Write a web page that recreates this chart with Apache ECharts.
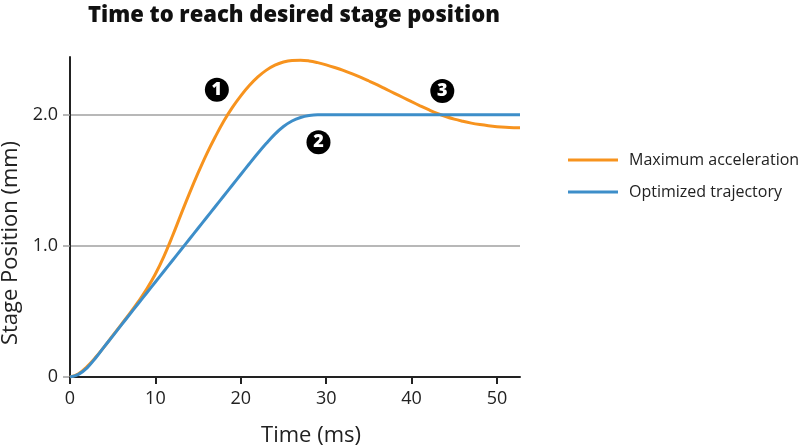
<!DOCTYPE html>
<html lang="en">
<head>
<meta charset="UTF-8">
<title>Time to reach desired stage position</title>
<style type="text/css">
  html, body { margin: 0; padding: 0; background: #fff; }
  #chart { width: 800px; height: 448px; }
</style>
</head>
<body>
<div id="chart"></div>
<script src="https://cdn.jsdelivr.net/npm/echarts@6/dist/echarts.min.js"></script>
<script type="text/javascript">
// time (ms)
var times = [0, 1, 2, 3, 4, 5, 6, 7, 8, 9, 10, 11, 12, 13, 14, 15, 16, 17, 18, 19,
             20, 21, 22, 23, 24, 25, 26, 27, 28, 29, 30, 31, 32, 33, 34, 35, 36, 37,
             38, 39, 40, 41, 42, 43, 44, 45, 46, 47, 48, 49, 50, 51, 52, 52.7];
// stage position (mm)
var maxAccel = [0, 0.025, 0.08, 0.15, 0.23, 0.315, 0.40, 0.485, 0.575, 0.672, 0.785, 0.92,
                1.075, 1.24, 1.402, 1.556, 1.70, 1.83, 1.95, 2.054, 2.144, 2.222, 2.288, 2.34,
                2.378, 2.402, 2.414, 2.416, 2.41, 2.397, 2.38, 2.36, 2.338, 2.313, 2.286, 2.257,
                2.227, 2.195, 2.163, 2.131, 2.099, 2.068, 2.038, 2.01, 1.986, 1.966, 1.95, 1.936,
                1.925, 1.916, 1.909, 1.904, 1.901, 1.90];
var optimized = [0, 0.02, 0.07, 0.145, 0.23, 0.312, 0.395, 0.478, 0.56, 0.642, 0.724, 0.806,
                 0.888, 0.97, 1.052, 1.134, 1.216, 1.298, 1.38, 1.462, 1.544, 1.626, 1.706, 1.782,
                 1.852, 1.91, 1.952, 1.979, 1.994, 2.0, 2.0, 2.0, 2.0, 2.0, 2.0, 2.0,
                 2.0, 2.0, 2.0, 2.0, 2.0, 2.0, 2.0, 2.0, 2.0, 2.0, 2.0, 2.0,
                 2.0, 2.0, 2.0, 2.0, 2.0, 2.0];
var seriesNames = ['Maximum acceleration', 'Optimized trajectory'];
var xTicks = [0, 10, 20, 30, 40, 50];
var yTicks = [0, 1, 2];
// numbered callouts [time, position, label]
var callouts = [[17.2, 2.19, '1'], [29.1, 1.79, '2'], [43.6, 2.18, '3']];

function pairs(vals) {
    var out = [];
    for (var i = 0; i < times.length; i++) {
        out.push([times[i], vals[i]]);
    }
    return out;
}

var myChart = echarts.init(document.getElementById('chart'));
var font = '"Open Sans", "Noto Sans", sans-serif';
var option = {
    animation: false,
    textStyle: { fontFamily: font },
    title: {
        text: 'Time to reach desired stage position',
        left: 289,
        textAlign: 'center',
        top: 0,
        textStyle: { fontFamily: font, fontSize: 22, fontWeight: 800, color: '#111' }
    },
    legend: {
        data: seriesNames,
        orient: 'vertical',
        left: 563,
        top: 146,
        icon: 'rect',
        itemWidth: 50,
        itemHeight: 3,
        itemGap: 14,
        textStyle: { fontFamily: font, fontSize: 16, color: '#222', lineHeight: 18, padding: [0, 0, 0, 6] }
    },
    grid: { left: 70, right: 280, top: 57, bottom: 71, outerBoundsMode: 'none' },
    xAxis: {
        type: 'value',
        min: 0,
        max: 52.7,
        interval: 10,
        name: 'Time (ms)',
        nameLocation: 'middle',
        nameGap: 48,
        nameTextStyle: { fontFamily: font, fontSize: 22, color: '#222', padding: [0, 0, 0, 32] },
        axisLine: { lineStyle: { color: '#222', width: 2 } },
        axisTick: { customValues: xTicks, length: 7, lineStyle: { color: '#222', width: 2 } },
        axisLabel: { customValues: xTicks, fontSize: 18, color: '#222', margin: 13 },
        splitLine: { show: false }
    },
    yAxis: {
        type: 'value',
        min: 0,
        max: 2.44,
        interval: 1,
        name: 'Stage Position (mm)',
        nameLocation: 'middle',
        nameGap: 46,
        nameTextStyle: { fontFamily: font, fontSize: 22, color: '#222', padding: [0, 52, 0, 0] },
        axisLine: { show: true, lineStyle: { color: '#222', width: 2 } },
        axisTick: { show: true, customValues: yTicks, length: 7, lineStyle: { color: '#a0a0a0', width: 1.5 } },
        axisLabel: {
            customValues: yTicks,
            fontSize: 18,
            color: '#222',
            margin: 12,
            formatter: function (v) { return v === 0 ? '0' : v.toFixed(1); }
        },
        splitLine: { show: true, lineStyle: { color: '#a0a0a0', width: 1.5 } }
    },
    series: [
        {
            name: seriesNames[0],
            type: 'line',
            smooth: 0.4,
            showSymbol: false,
            data: pairs(maxAccel),
            lineStyle: { color: '#F7931E', width: 3 },
            itemStyle: { color: '#F7931E' },
            z: 3
        },
        {
            name: seriesNames[1],
            type: 'line',
            smooth: 0.4,
            showSymbol: false,
            data: pairs(optimized),
            lineStyle: { color: '#3D8EC9', width: 3 },
            itemStyle: { color: '#3D8EC9' },
            z: 4
        },
        {
            name: 'callouts',
            type: 'scatter',
            symbol: 'circle',
            symbolSize: 24,
            data: callouts.map(function (c) { return { value: [c[0], c[1]], label: { formatter: c[2] } }; }),
            itemStyle: { color: '#000', opacity: 1 },
            label: {
                show: true,
                position: 'inside',
                color: '#fff',
                fontFamily: font,
                fontWeight: 800,
                fontSize: 18
            },
            z: 5
        }
    ]
};
myChart.setOption(option);
</script>
</body>
</html>
